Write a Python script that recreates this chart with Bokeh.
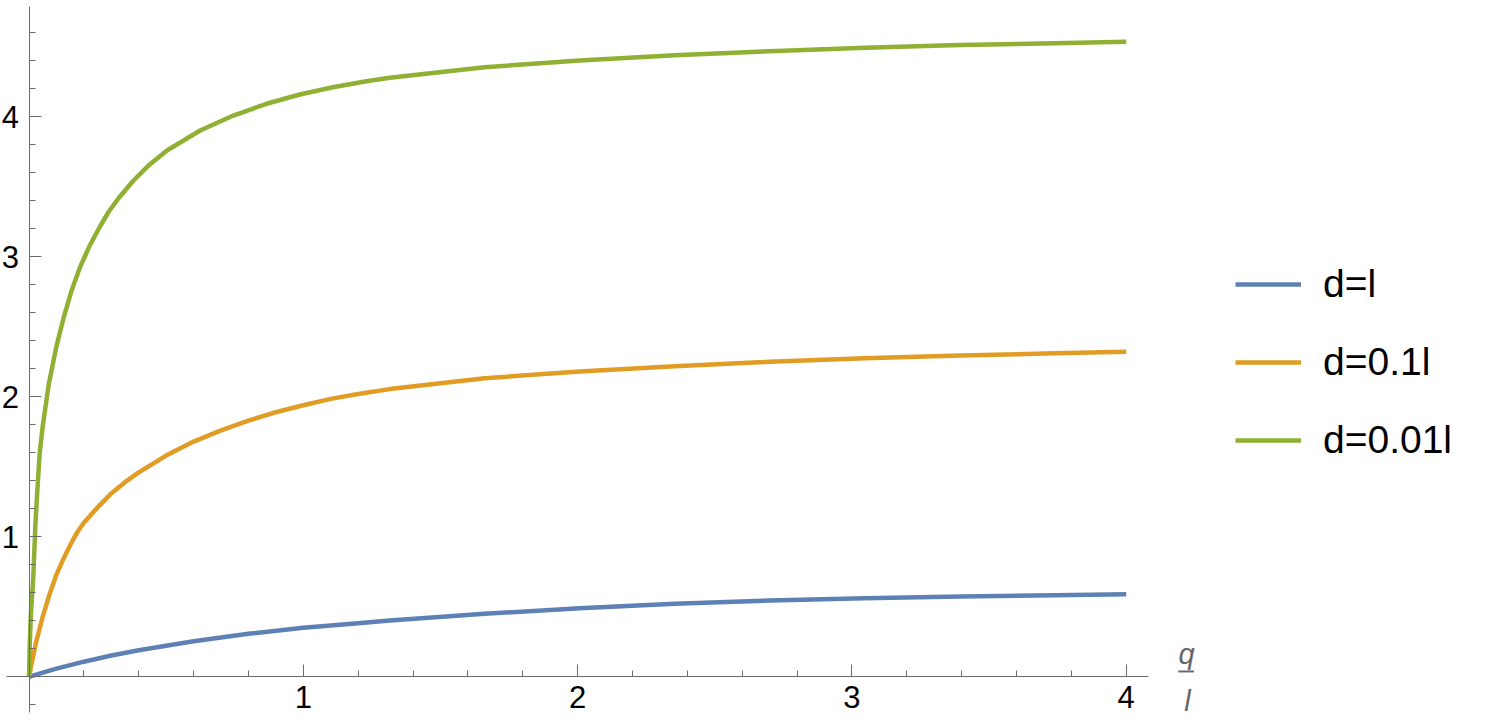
from bokeh.plotting import figure
from bokeh.models import Range1d, FixedTicker, Legend, LegendItem, Label, BoxAnnotation
from bokeh.embed import file_html
from bokeh.resources import INLINE

# ---- data ----
x_d1 = [0, 0.05, 0.1, 0.2, 0.3, 0.4, 0.6, 0.8, 1.0, 1.2, 1.315, 1.661, 2.007, 2.354, 2.7, 3.047, 3.394, 3.74, 4.0]
y_d1 = [0, 0.03, 0.058, 0.108, 0.152, 0.19, 0.254, 0.307, 0.35, 0.383, 0.402, 0.45, 0.49, 0.521, 0.545, 0.561, 0.574, 0.583, 0.59]

x_d01 = [0, 0.01, 0.025, 0.05, 0.075, 0.1, 0.125, 0.15, 0.175, 0.2, 0.25, 0.3, 0.35, 0.4, 0.5, 0.6,
         0.7, 0.8, 0.9, 1.0, 1.1, 1.2, 1.315, 1.661, 2.007, 2.354, 2.7, 3.047, 3.394, 3.74, 4.0]
y_d01 = [0, 0.1, 0.24, 0.43, 0.59, 0.73, 0.84, 0.94, 1.03, 1.10, 1.21, 1.31, 1.39, 1.46, 1.58, 1.68,
         1.76, 1.83, 1.89, 1.94, 1.985, 2.02, 2.055, 2.133, 2.181, 2.219, 2.25, 2.276, 2.295, 2.311, 2.321]

x_d001 = [0, 0.003, 0.007, 0.0153, 0.0236, 0.03, 0.039, 0.05, 0.072, 0.1, 0.127, 0.155, 0.187, 0.22,
          0.26, 0.29, 0.327, 0.381, 0.44, 0.503, 0.624, 0.745, 0.866, 0.987, 1.108, 1.23, 1.315,
          1.661, 2.007, 2.354, 2.7, 3.047, 3.394, 3.74, 4.0]
y_d001 = [0, 0.25, 0.45, 0.70, 1.10, 1.32, 1.60, 1.79, 2.09, 2.36, 2.57, 2.757, 2.93, 3.075,
          3.22, 3.32, 3.42, 3.545, 3.66, 3.759, 3.902, 4.009, 4.093, 4.159, 4.211, 4.254, 4.279,
          4.354, 4.402, 4.44, 4.469, 4.493, 4.512, 4.526, 4.536]

labels = ["d=l", "d=0.1l", "d=0.01l"]
colors = ["#5E81B5", "#E19C24", "#8FB032"]

x_major = [1, 2, 3, 4]
x_minor = [0.2, 0.4, 0.6, 0.8, 1.2, 1.4, 1.6, 1.8, 2.2, 2.4, 2.6, 2.8, 3.2, 3.4, 3.6, 3.8]
y_major = [1, 2, 3, 4]
y_minor = [-0.2, 0.2, 0.4, 0.6, 0.8, 1.2, 1.4, 1.6, 1.8, 2.2, 2.4, 2.6, 2.8,
           3.2, 3.4, 3.6, 3.8, 4.2, 4.4, 4.6]

# ---- layout ----
W, H = 1479, 724
sx, sy = 274.3, 140.0          # px per unit
ox, oy = 28.5, 676.3           # origin in page pixels
x0 = -ox / sx
x1 = x0 + W / sx
y1 = oy / sy
y0 = y1 - H / sy

p = figure(width=W, height=H, x_range=Range1d(x0, x1), y_range=Range1d(y0, y1),
           output_backend="svg", toolbar_location=None, min_border=0)
p.outline_line_color = None
p.grid.visible = False
p.background_fill_color = "white"

axis_color = "#6b6b6b"
for ax in (p.xaxis[0], p.yaxis[0]):
    ax.fixed_location = 0
    ax.axis_line_color = axis_color
    ax.axis_line_width = 1
    ax.major_tick_line_color = axis_color
    ax.minor_tick_line_color = axis_color
    ax.major_tick_in = 12
    ax.major_tick_out = 0
    ax.minor_tick_in = 6
    ax.minor_tick_out = 0
    ax.major_label_text_font = "Liberation Sans"
    ax.major_label_text_font_size = "31px"
    ax.major_label_text_color = "black"

p.xaxis[0].major_label_standoff = 9
p.yaxis[0].major_label_standoff = 10
p.xaxis[0].ticker = FixedTicker(ticks=x_major, minor_ticks=x_minor)
p.yaxis[0].ticker = FixedTicker(ticks=y_major, minor_ticks=y_minor)
p.xaxis[0].bounds = (-0.082, 4.08)
p.yaxis[0].bounds = (-0.255, 4.79)

rs = []
for xs, ys, c in zip([x_d1, x_d01, x_d001], [y_d1, y_d01, y_d001], colors):
    r = p.line(xs, ys, line_color=c, line_width=4.5, line_join="round")
    rs.append(r)

legend = Legend(items=[LegendItem(label=l, renderers=[r]) for l, r in zip(labels, rs)],
                location=(1235, 254 + (H - 719)), border_line_color=None, background_fill_alpha=0,
                label_text_font="Liberation Sans", label_text_font_size="39px",
                label_text_color="black",
                glyph_width=66, glyph_height=50, spacing=28, padding=0, margin=0,
                label_standoff=22)
p.add_layout(legend)

# axis label q / l
lab_kw = dict(text_font="Liberation Sans", text_font_style="italic", text_font_size="29px",
              text_color="#666666", text_align="center", x_units="screen", y_units="screen")
p.add_layout(Label(x=1186, y=H - 653, text="q", text_baseline="alphabetic", **lab_kw))
p.add_layout(Label(x=1187, y=H - 700, text="l", text_baseline="alphabetic", **lab_kw))
p.add_layout(BoxAnnotation(left=4.19, right=4.247, bottom=0.031, top=0.045,
                           fill_color="#666666", fill_alpha=1, line_color=None))

open("out.html", "w").write(file_html(p, INLINE))
